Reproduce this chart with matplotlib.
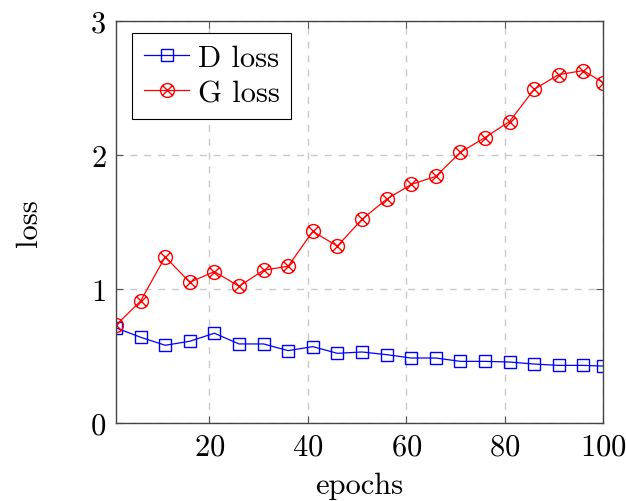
import matplotlib
matplotlib.use("Agg")
import matplotlib.pyplot as plt
from matplotlib.path import Path

epochs = [1, 6, 11, 16, 21, 26, 31, 36, 41, 46, 51, 56, 61, 66, 71, 76, 81, 86, 91, 96, 100]
d_loss = [0.71, 0.64, 0.58, 0.61, 0.67, 0.59, 0.59, 0.54, 0.57, 0.52, 0.53, 0.51, 0.485, 0.485,
          0.46, 0.46, 0.455, 0.44, 0.43, 0.43, 0.425]
g_loss = [0.73, 0.91, 1.24, 1.05, 1.13, 1.02, 1.14, 1.17, 1.43, 1.32, 1.52, 1.67, 1.78, 1.84,
          2.02, 2.13, 2.25, 2.49, 2.60, 2.63, 2.54]
xticks = [20, 40, 60, 80, 100]
yticks = [0, 1, 2, 3]

plt.rcParams['font.family'] = 'serif'
plt.rcParams['font.serif'] = ['cmr10']
plt.rcParams['mathtext.fontset'] = 'cm'
plt.rcParams['axes.formatter.use_mathtext'] = True

FS = 22

# circle with an x inside (otimes)
r = 0.7071
otimes = Path.make_compound_path(
    Path.unit_circle(),
    Path([(-r, -r), (r, r)], [Path.MOVETO, Path.LINETO]),
    Path([(-r, r), (r, -r)], [Path.MOVETO, Path.LINETO]),
)

fig = plt.figure(figsize=(6.26, 5.02), dpi=100)
ax = fig.add_axes([116/626, 1-424/502, (603-116)/626, (424-22)/502])

ax.plot(epochs, d_loss, color='blue', lw=0.9, marker='s', ms=8, mfc='none', mec='blue', mew=1.0, label='D loss')
ax.plot(epochs, g_loss, color='red', lw=0.9, marker=otimes, ms=10, mfc='none', mec='red', mew=1.0, label='G loss')

ax.set_xlim(1, 100)
ax.set_ylim(0, 3)
ax.set_xticks(xticks)
ax.set_yticks(yticks)
ax.tick_params(direction='in', length=5, labelsize=FS, top=True, right=True, color='#555555', pad=7)
for s in ax.spines.values():
    s.set_color('#444444')
    s.set_linewidth(1.0)
ax.grid(True, linestyle=(0, (5, 5)), color='#c8c8c8', lw=1.0)
ax.set_axisbelow(True)
ax.set_xlabel('epochs', fontsize=FS, labelpad=8)
ax.set_ylabel('loss', fontsize=FS, labelpad=34)

leg = ax.legend(loc='upper left', fontsize=FS, frameon=True, fancybox=False, edgecolor='black',
                framealpha=1, borderpad=0.38, handlelength=1.5, handletextpad=0.27, labelspacing=0.25,
                borderaxespad=0, bbox_to_anchor=(16/487, 1-12/402))
leg.get_frame().set_linewidth(0.8)

fig.savefig('out.png', dpi=100)
